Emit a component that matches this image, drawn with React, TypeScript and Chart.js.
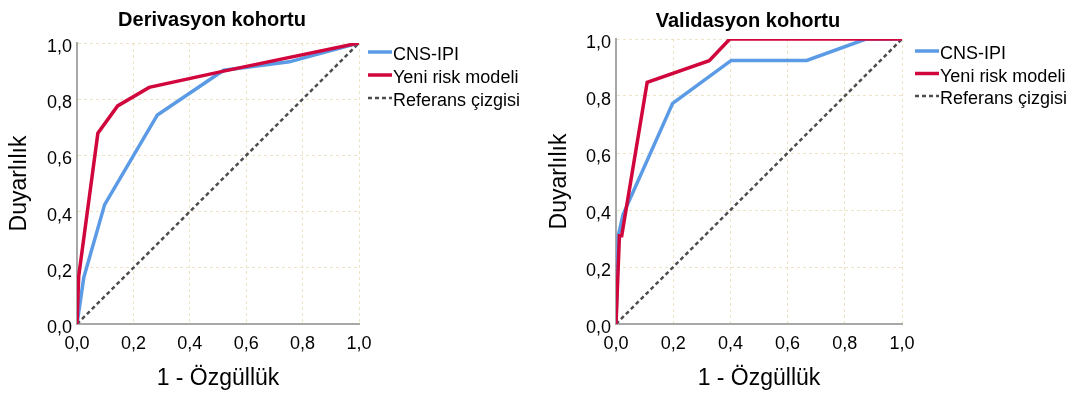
import React, { useEffect, useRef } from 'react';
import { Chart, registerables } from 'chart.js';

Chart.register(...registerables);

const FONT = '"Liberation Sans", Arial, sans-serif';

const seriesLabels = ['CNS-IPI', 'Yeni risk modeli', 'Referans çizgisi'];
const derivTitle = 'Derivasyon kohortu';
const validTitle = 'Validasyon kohortu';
const xAxisTitle = '1 - Özgüllük';
const yAxisTitle = 'Duyarlılık';
const tickMin = 0;
const tickMax = 1;
const tickStep = 0.2;

// Derivasyon kohortu
const derivCnsX = [0, 0.024, 0.098, 0.285, 0.52, 0.753, 1];
const derivCnsY = [0, 0.165, 0.425, 0.744, 0.903, 0.933, 1];
const derivNewX = [0, 0.006, 0.074, 0.144, 0.256, 0.52, 1];
const derivNewY = [0, 0.17, 0.679, 0.776, 0.842, 0.9, 1];

// Validasyon kohortu
const validCnsX = [0, 0.008, 0.025, 0.198, 0.403, 0.667, 0.874, 1];
const validCnsY = [0, 0.31, 0.385, 0.774, 0.925, 0.925, 1, 1];
const validNewX = [0, 0.012, 0.02, 0.109, 0.326, 0.398, 1];
const validNewY = [0, 0.31, 0.31, 0.848, 0.924, 1, 1];

// Referans çizgisi
const refX = [0, 1];
const refY = [0, 1];

const BLUE = '#5b9be6';
const RED = '#d0063c';
const GRAY = '#4d4d4d';

const toPoints = (xs: number[], ys: number[]) => xs.map((x, i) => ({ x, y: ys[i] }));
const fmt = (v: any) => Number(v).toFixed(1).replace('.', ',');

const overlayPlugin = {
  id: 'overlay',
  afterDraw(chart: any, _args: any, opts: any) {
    const ctx = chart.ctx;
    ctx.save();
    ctx.fillStyle = '#000';
    ctx.font = `bold ${opts.titleSize}px ${FONT}`;
    ctx.textAlign = 'center';
    ctx.textBaseline = 'alphabetic';
    ctx.fillText(opts.title, opts.titleX, opts.titleY);
    chart.data.datasets.forEach((ds: any, i: number) => {
      const y = opts.legendY + i * opts.legendGap;
      ctx.beginPath();
      ctx.setLineDash(ds.borderDash || []);
      ctx.lineWidth = ds.borderWidth;
      ctx.strokeStyle = ds.borderColor;
      ctx.moveTo(opts.legendX, y);
      ctx.lineTo(opts.legendX + opts.lineLen, y);
      ctx.stroke();
      ctx.setLineDash([]);
      ctx.font = `${opts.legendSize}px ${FONT}`;
      ctx.textAlign = 'left';
      ctx.textBaseline = 'alphabetic';
      ctx.fillStyle = '#000';
      ctx.fillText(ds.label, opts.legendX + opts.lineLen + 1, y + 8);
    });
    ctx.restore();
  },
};

type PanelProps = {
  width: number;
  height: number;
  cnsX: number[];
  cnsY: number[];
  newX: number[];
  newY: number[];
  title: string;
  area: { left: number; right: number; top: number; bottom: number };
  titleX: number;
  titleY: number;
  legendX: number;
  legendY: number;
  legendGap: number;
};

function RocPanel(p: PanelProps) {
  const ref = useRef<HTMLCanvasElement | null>(null);
  useEffect(() => {
    if (!ref.current) return;
    const yWidth = p.area.left;
    const xHeight = p.height - p.area.bottom;
    const gridColor = 'rgba(226,214,165,0.65)';
    const chart = new Chart(ref.current, {
      type: 'line',
      data: {
        datasets: [
          {
            label: seriesLabels[0],
            data: toPoints(p.cnsX, p.cnsY),
            borderColor: BLUE,
            backgroundColor: BLUE,
            borderWidth: 3.5,
            pointRadius: 0,
            tension: 0,
            order: 1,
          },
          {
            label: seriesLabels[1],
            data: toPoints(p.newX, p.newY),
            borderColor: RED,
            backgroundColor: RED,
            borderWidth: 3.5,
            pointRadius: 0,
            tension: 0,
            order: 0,
          },
          {
            label: seriesLabels[2],
            data: toPoints(refX, refY),
            borderColor: GRAY,
            backgroundColor: GRAY,
            borderWidth: 2.5,
            borderDash: [4, 3],
            pointRadius: 0,
            tension: 0,
            order: 2,
          },
        ],
      },
      options: {
        responsive: false,
        animation: false,
        devicePixelRatio: 1,
        layout: {
          padding: { top: p.area.top, right: p.width - p.area.right, bottom: 0, left: 0 },
        },
        plugins: {
          legend: { display: false },
          tooltip: { enabled: false },
          title: { display: false },
          overlay: {
            title: p.title,
            titleSize: 20,
            titleX: p.titleX,
            titleY: p.titleY,
            legendX: p.legendX,
            legendY: p.legendY,
            legendGap: p.legendGap,
            lineLen: 24,
            legendSize: 18,
          },
        } as any,
        scales: {
          x: {
            type: 'linear',
            min: tickMin,
            max: tickMax,
            afterFit: (s: any) => {
              s.height = xHeight;
            },
            ticks: {
              stepSize: tickStep,
              callback: fmt,
              color: '#000',
              padding: 9,
              maxRotation: 0,
              font: { family: FONT, size: 18 },
            },
            grid: { color: gridColor, lineWidth: 1, drawTicks: false },
            border: { display: true, color: '#a8a8a8', width: 2, dash: [3, 3] },
            title: {
              display: true,
              text: xAxisTitle,
              color: '#000',
              font: { family: FONT, size: 23 },
              padding: { top: 0, bottom: 5 },
            },
          },
          y: {
            type: 'linear',
            min: tickMin,
            max: tickMax,
            afterFit: (s: any) => {
              s.width = yWidth;
            },
            ticks: {
              stepSize: tickStep,
              callback: fmt,
              color: '#000',
              padding: 5,
              labelOffset: 4,
              font: { family: FONT, size: 18 },
            },
            grid: { color: gridColor, lineWidth: 1, drawTicks: false },
            border: { display: true, color: '#a8a8a8', width: 2, dash: [3, 3] },
            title: {
              display: true,
              text: yAxisTitle,
              color: '#000',
              font: { family: FONT, size: 23 },
              padding: { top: 6, bottom: 0 },
            },
          },
        },
      } as any,
      plugins: [overlayPlugin as any],
    });
    return () => chart.destroy();
  }, []);
  return (
    <canvas
      ref={ref}
      width={p.width}
      height={p.height}
      style={{ width: p.width, height: p.height, display: 'block' }}
    />
  );
}

export default function App() {
  useEffect(() => {
    document.body.style.margin = '0';
  }, []);
  return (
    <div style={{ position: 'relative', width: 1079, height: 397, background: '#fff' }}>
      <div style={{ position: 'absolute', left: 0, top: 0 }}>
        <RocPanel
          width={540}
          height={397}
          cnsX={derivCnsX}
          cnsY={derivCnsY}
          newX={derivNewX}
          newY={derivNewY}
          title={derivTitle}
          area={{ left: 77, right: 359, top: 43, bottom: 324 }}
          titleX={212}
          titleY={26}
          legendX={368}
          legendY={52}
          legendGap={23}
        />
      </div>
      <div style={{ position: 'absolute', left: 540, top: 0 }}>
        <RocPanel
          width={539}
          height={397}
          cnsX={validCnsX}
          cnsY={validCnsY}
          newX={validNewX}
          newY={validNewY}
          title={validTitle}
          area={{ left: 76, right: 362, top: 39, bottom: 324 }}
          titleX={208}
          titleY={27}
          legendX={375}
          legendY={51}
          legendGap={22.5}
        />
      </div>
    </div>
  );
}
